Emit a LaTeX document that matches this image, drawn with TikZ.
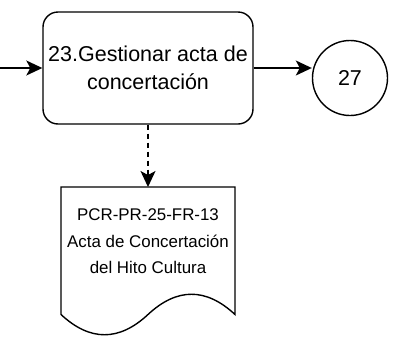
\documentclass[tikz,border=0pt]{standalone}
\usepackage{fontspec}
\setmainfont{Liberation Sans}
\usetikzlibrary{arrows.meta}
\begin{document}
\begin{tikzpicture}[x=1pt,y=-1pt,
  line width=1.4pt,
  arr/.style={-{Stealth[length=16pt,width=15pt,inset=4pt]}},
  proc/.style={draw, rounded corners=15pt, align=center, font=\fontsize{21.5}{28}\selectfont},
  conn/.style={draw, circle, font=\fontsize{21.5}{25}\selectfont},
  doctext/.style={align=center, font=\fontsize{16.9}{26.5}\selectfont}]
\useasboundingbox (0,0) rectangle (394,338);
\node[proc, minimum width=210pt, minimum height=112pt, inner sep=0pt] (p) at (148,68) {23.Gestionar acta de\\concertación};
\node[conn, minimum size=75pt, inner sep=0pt] (c) at (350,78) {27};
\coordinate (in) at (0,68);
\draw[arr] (in) -- (p.west);
\draw[arr] (p.east) -- (c.west |- p.east);
% document shape
\draw (61,187) -- (235,187) -- (235,314.5)
  .. controls (206,287.5) and (177,287.5) .. (148,314.5)
  .. controls (119,341.5) and (90,341.5) .. (61,314.5)
  -- cycle;
\coordinate (dtop) at (148,187);
\node[doctext] (d) at (148,241.5) {PCR-PR-25-FR-13\\Acta de Concertación\\del Hito Cultura};
\draw[arr, dashed, dash pattern=on 5pt off 4pt] (p.south) -- (dtop);
\end{tikzpicture}
\end{document}
